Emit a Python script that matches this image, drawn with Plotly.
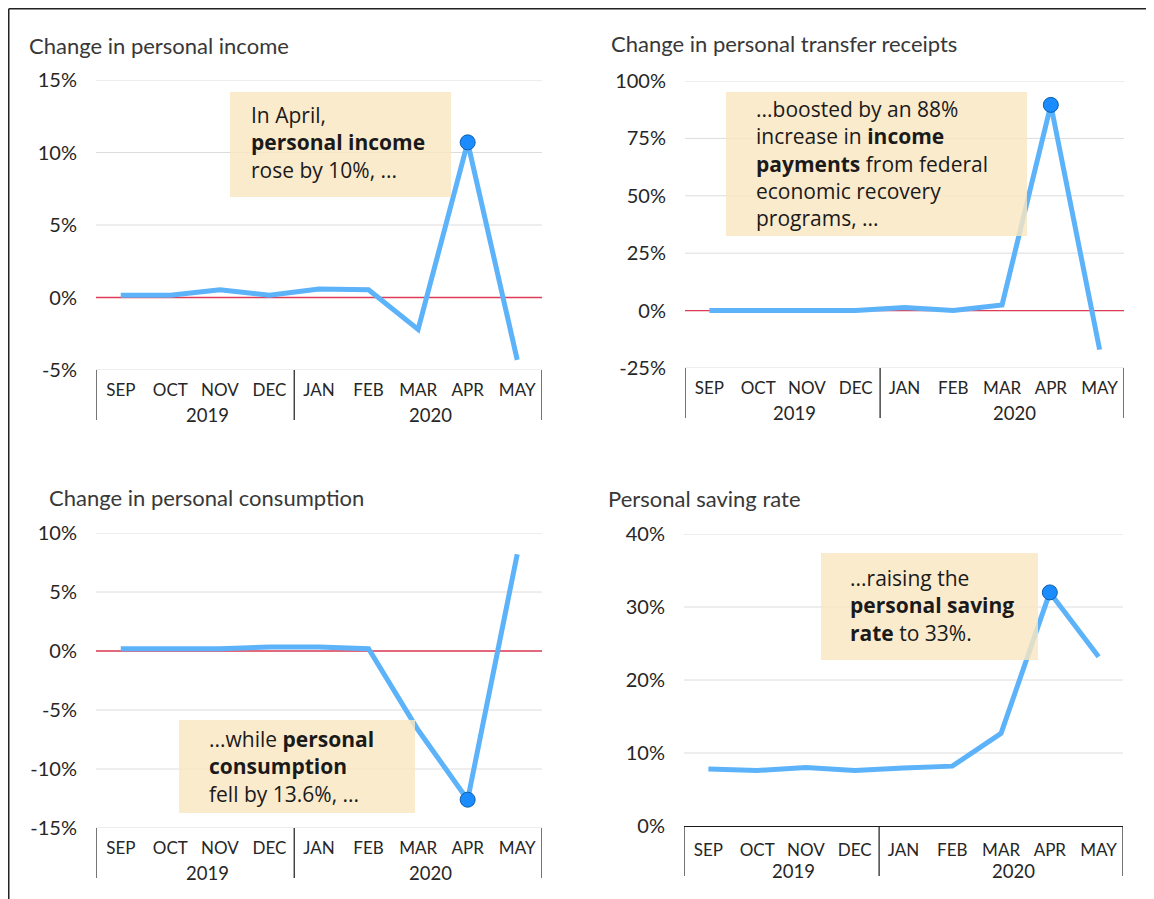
import plotly.graph_objects as go

# ---------------- data ----------------
months = ["SEP", "OCT", "NOV", "DEC", "JAN", "FEB", "MAR", "APR", "MAY"]
years = ["2019", "2019", "2019", "2019", "2020", "2020", "2020", "2020", "2020"]

income = [0.16, 0.16, 0.53, 0.16, 0.58, 0.53, -2.2, 10.7, -4.3]
transfers = [0.0, 0.0, 0.0, 0.0, 1.4, 0.0, 2.5, 89.6, -17.0]
consumption = [0.2, 0.2, 0.2, 0.34, 0.34, 0.2, -6.7, -12.6, 8.2]
saving = [7.8, 7.6, 8.0, 7.6, 7.95, 8.2, 12.7, 32.0, 23.2]

highlight_month = "APR"

titles = ["Change in personal income", "Change in personal transfer receipts",
          "Change in personal consumption", "Personal saving rate"]

ticks_income = [-5, 0, 5, 10, 15]
ticks_transfers = [-25, 0, 25, 50, 75, 100]
ticks_consumption = [-15, -10, -5, 0, 5, 10]
ticks_saving = [0, 10, 20, 30, 40]

notes = [
    ["In April,", "<b>personal income</b>", "rose by 10%, ..."],
    ["...boosted by an 88%", "increase in <b>income</b>", "<b>payments</b> from federal",
     "economic recovery", "programs, ..."],
    ["...while <b>personal</b>", "<b>consumption</b>", "fell by 13.6%, ..."],
    ["...raising the", "<b>personal saving</b>", "<b>rate</b> to 33%."],
]

# ---------------- layout helpers ----------------
OFF = 8                      # page body margin of the browser
W, H = 1154 - OFF, 899 - OFF
FONT = "Lato"
NOTE_FONT = "Open Sans"


def px_x(p):
    return (p - OFF) / W


def px_y(p):
    return 1 - (p - OFF) / H


def fmt(v):
    return f"{v}%"


# year groups (label, first index, last index)
groups = []
for idx, yr in enumerate(years):
    if groups and groups[-1][0] == yr:
        groups[-1][2] = idx
    else:
        groups.append([yr, idx, idx])

series = [income, transfers, consumption, saving]
ticks = [ticks_income, ticks_transfers, ticks_consumption, ticks_saving]

# pixel geometry of each panel (screen coords): (left, right, top, bottom)
geom = [(96, 542, 80, 370), (685, 1124, 81, 368), (96, 542, 533, 828), (684, 1123, 534, 826)]
title_pos = [(27, 45), (609, 43), (47, 497), (606, 498)]
box_pos = [(230, 92, 451, 197), (726, 92, 1027, 236), (179, 720, 415, 813), (821, 553, 1038, 660)]
text_x = [249, 754, 207, 848]
text_mid = [143, 163, 766, 605]

fig = go.Figure()
line_color = "#5cb3fa"
hi_idx = months.index(highlight_month)
x_lo, x_hi = -0.5, len(months) - 0.5
shapes = []
annotations = []

for i, (vals, tv) in enumerate(zip(series, ticks)):
    n = "" if i == 0 else str(i + 1)
    xa, ya = "x" + n, "y" + n
    fig.add_trace(go.Scatter(
        x=months, y=vals, mode="lines", xaxis=xa, yaxis=ya,
        line=dict(color=line_color, width=5), showlegend=False, hoverinfo="skip"))
    fig.add_trace(go.Scatter(
        x=[months[hi_idx]], y=[vals[hi_idx]], mode="markers",
        xaxis=xa, yaxis=ya,
        marker=dict(color="#1a8cff", size=15, line=dict(color="#0d5ea8", width=1)),
        showlegend=False, hoverinfo="skip"))

    l, r, t, b = geom[i]
    last = (i == 3)
    fig.update_layout(**{
        "xaxis" + n: dict(
            domain=[px_x(l), px_x(r)], anchor=ya, type="category",
            categoryorder="array", categoryarray=months,
            range=[x_lo, x_hi],
            showgrid=False, zeroline=False, ticks="", automargin=False,
            showline=last, linecolor="#1a1a1a", linewidth=1.3,
            ticklabelstandoff=8,
            tickfont=dict(family=FONT, size=17, color="#262626"),
            fixedrange=True),
        "yaxis" + n: dict(
            domain=[px_y(b), px_y(t)], anchor=xa, automargin=False,
            range=[tv[0], tv[-1]], tickvals=tv, ticktext=[fmt(v) for v in tv],
            showgrid=False, zeroline=False,
            showline=False, ticks="", ticklabelstandoff=18,
            tickfont=dict(family=FONT, size=20, color="#262626"),
            fixedrange=True),
    })

    # horizontal gridlines, then the red reference line at zero
    for v in tv:
        if last and v == tv[0]:
            continue
        shapes.append(dict(type="line", xref=xa, yref=ya, x0=x_lo, x1=x_hi, y0=v, y1=v,
                           line=dict(color="#dcdcdc", width=1), layer="below"))
    if tv[0] < 0 < tv[-1]:
        shapes.append(dict(type="line", xref=xa, yref=ya, x0=x_lo, x1=x_hi, y0=0, y1=0,
                           line=dict(color="#dc3c55", width=1.3), layer="below"))

    # year group labels and dividers
    for yr, first, lastidx in groups:
        annotations.append(dict(
            x=(first + lastidx) / 2, y=px_y(b + 45), xref=xa, yref="paper",
            xanchor="center", yanchor="middle", xshift=12, text=yr, showarrow=False,
            font=dict(family=FONT, size=18.5, color="#262626")))
    bounds = sorted({g[1] - 0.5 for g in groups} | {g[2] + 0.5 for g in groups})
    for bx in bounds:
        shapes.append(dict(type="line", xref=xa, yref="paper", x0=bx, x1=bx,
                           y0=px_y(b + 50), y1=px_y(b),
                           line=dict(color="#1a1a1a", width=1.2)))

for i in range(4):
    tx, ty = title_pos[i]
    annotations.append(dict(
        x=px_x(tx), y=px_y(ty), xref="paper", yref="paper", xanchor="left", yanchor="middle",
        text=titles[i], showarrow=False, font=dict(family=FONT, size=22, color="#383838")))
    x0, y0, x1, y1 = box_pos[i]
    shapes.append(dict(type="rect", xref="paper", yref="paper",
                       x0=px_x(x0), x1=px_x(x1), y0=px_y(y1), y1=px_y(y0),
                       fillcolor="rgb(250,231,194)", opacity=0.82, line=dict(width=0),
                       layer="above"))
    annotations.append(dict(
        x=px_x(text_x[i]), y=px_y(text_mid[i]), xref="paper", yref="paper",
        xanchor="left", yanchor="middle", align="left", text="<br>".join(notes[i]),
        showarrow=False, font=dict(family=NOTE_FONT, size=21, color="#1a1a1a")))

# outer frame (left and top edges visible)
fx, fy = 0.75 / W, 1 - 0.75 / H
shapes.append(dict(type="line", xref="paper", yref="paper",
                   x0=fx, x1=fx, y0=0, y1=fy, line=dict(color="#222", width=1.5)))
shapes.append(dict(type="line", xref="paper", yref="paper",
                   x0=fx, x1=1, y0=fy, y1=fy, line=dict(color="#222", width=1.5)))

fig.update_layout(
    width=W, height=H, margin=dict(l=0, r=0, t=0, b=0, autoexpand=False),
    paper_bgcolor="white", plot_bgcolor="white",
    shapes=shapes, annotations=annotations, showlegend=False,
    font=dict(family=FONT),
)

fig.write_html("out.html")
